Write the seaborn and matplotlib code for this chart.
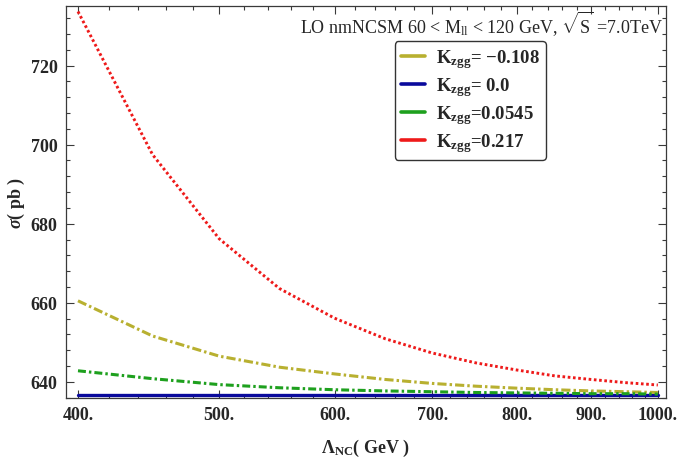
import numpy as np
import pandas as pd
import seaborn as sns
import matplotlib
import matplotlib.pyplot as plt
from matplotlib.ticker import FixedLocator, FixedFormatter, NullFormatter
from matplotlib.lines import Line2D

# Cross section sigma (pb) versus the NC scale Lambda_NC (GeV)
lambda_nc = [400, 450, 500, 550, 600, 650, 700, 750, 800, 850, 900, 950, 1000]
sigma_k_m0108 = [660.5, 651.6, 646.5, 643.7, 642.0, 640.6, 639.6, 638.9, 638.4, 638.0, 637.7, 637.5, 637.3]
sigma_k_0 = [636.7, 636.7, 636.7, 636.7, 636.7, 636.7, 636.7, 636.7, 636.7, 636.7, 636.7, 636.7, 636.7]
sigma_k_00545 = [642.8, 640.8, 639.3, 638.5, 638.0, 637.7, 637.5, 637.3, 637.2, 637.1, 637.0, 637.0, 636.9]
sigma_k_0217 = [733.7, 697.5, 676.2, 663.6, 656.1, 650.9, 647.3, 644.8, 643.0, 641.5, 640.6, 639.8, 639.2]

kzgg_values = ["= \u22120.108", "= 0.0", "=0.0545", "=0.217"]
series_colors = ["#B8B030", "#0A0A9C", "#1EA01E", "#EE1A1A"]

x_ticks = [400, 500, 600, 700, 800, 900, 1000]
x_tick_labels = ["400.", "500.", "600.", "700.", "800.", "900.", "1000."]
y_ticks = [640, 660, 680, 700, 720]
y_tick_labels = ["640", "660", "680", "700", "720"]

sns.set_theme(style="ticks")
plt.rcParams["font.family"] = ["Liberation Serif", "DejaVu Serif"]
plt.rcParams["mathtext.fontset"] = "custom"
plt.rcParams["mathtext.rm"] = "Liberation Serif"
plt.rcParams["mathtext.it"] = "Liberation Serif:italic:bold"
plt.rcParams["mathtext.bf"] = "Liberation Serif:bold"

series = [sigma_k_m0108, sigma_k_0, sigma_k_00545, sigma_k_0217]
frames = []
for lab, vals in zip(kzgg_values, series):
    frames.append(pd.DataFrame({"lambda": lambda_nc, "sigma": vals, "k": lab}))
df = pd.concat(frames, ignore_index=True)

fig = plt.figure(figsize=(6.77, 4.64), dpi=100)
ax = fig.add_axes([0.0975, 0.140, 0.886, 0.845])

line_styles = {
    kzgg_values[0]: dict(lw=2.2, dashes=(3.0, 1.0, 0.8, 1.0)),
    kzgg_values[1]: dict(lw=2.4),
    kzgg_values[2]: dict(lw=2.2, dashes=(2.6, 1.0, 0.8, 1.0)),
    kzgg_values[3]: dict(lw=2.1, dashes=(0.9, 0.9)),
}
# draw the constant curve first so the others sit on top of it
order = [1, 0, 2, 3]
for i in order:
    lab = kzgg_values[i]
    sub = df[df["k"] == lab]
    st = line_styles[lab]
    sns.lineplot(data=sub, x="lambda", y="sigma", ax=ax, color=series_colors[i],
                 linewidth=st["lw"], legend=False)
    if "dashes" in st:
        ax.lines[-1].set_dashes(st["dashes"])

ax.set_xscale("log")
ax.set_xlim(392.5, 1012.7)
ax.set_ylim(635.9, 735.1)
ax.xaxis.set_major_locator(FixedLocator(x_ticks))
ax.xaxis.set_major_formatter(FixedFormatter(x_tick_labels))
ax.xaxis.set_minor_locator(FixedLocator([v for v in range(400, 1001, 20) if v % 100]))
ax.xaxis.set_minor_formatter(NullFormatter())
ax.yaxis.set_major_locator(FixedLocator(y_ticks))
ax.yaxis.set_major_formatter(FixedFormatter(y_tick_labels))
ax.yaxis.set_minor_locator(FixedLocator([v for v in range(636, 736, 4) if v % 20]))

frame_col = "#3a3a3a"
for sp in ax.spines.values():
    sp.set_color(frame_col)
    sp.set_linewidth(0.9)
ax.tick_params(which="both", direction="in", top=True, right=True, color=frame_col, width=0.8)
ax.tick_params(which="major", length=6, labelsize=13, pad=6)
ax.tick_params(which="minor", length=3)
for t in ax.get_xticklabels() + ax.get_yticklabels():
    t.set_fontweight("bold")

ax.set_xlabel(r"$\mathbf{\Lambda}_{\mathbf{NC}}$( GeV )", fontsize=13, fontweight="bold", labelpad=10)
ax.set_ylabel(r"$\mathit{\sigma}$( pb )", fontsize=13, fontweight="bold", labelpad=3)

ax.text(0.995, 0.957,
        r"LO nmNCSM 60 < M$_{\rm ll}$ < 120 GeV, $\sqrt{\rm S}$ =7.0TeV",
        transform=ax.transAxes, ha="right", va="center", fontsize=13)

handles = [Line2D([0], [0], color=series_colors[i], lw=2.6) for i in range(4)]
labels = [r"$\mathbf{K}_{\mathbf{zgg}}$" + v for v in kzgg_values]
leg = ax.legend(handles, labels, loc="upper left", bbox_to_anchor=(0.548, 0.911),
                frameon=True, fancybox=True, framealpha=1, edgecolor="#333333",
                prop={"family": "Liberation Serif", "weight": "bold", "size": 13.5},
                handlelength=1.3, handletextpad=0.55, labelspacing=0.27,
                borderpad=0.33, borderaxespad=0)
leg.get_frame().set_linewidth(1.0)

fig.savefig("out.png", dpi=100)
